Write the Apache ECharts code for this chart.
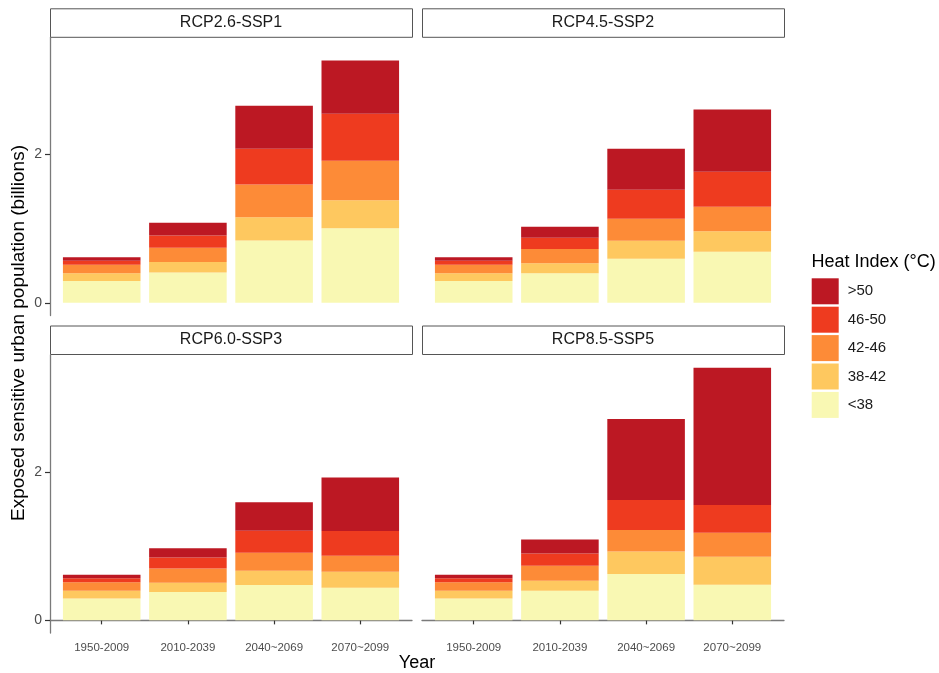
<!DOCTYPE html>
<html>
<head>
<meta charset="utf-8">
<script src="https://cdn.jsdelivr.net/npm/echarts@6/dist/echarts.min.js"></script>
<style>
  html, body { margin: 0; padding: 0; background: #fff; }
  #chart { width: 939px; height: 673px; }
</style>
</head>
<body>
<div id="chart"></div>
<script>
// categories
var periods = ['1950-2009', '2010-2039', '2040~2069', '2070~2099'];
var scenarios = ['RCP2.6-SSP1', 'RCP4.5-SSP2', 'RCP6.0-SSP3', 'RCP8.5-SSP5'];
var bins = ['<38', '38-42', '42-46', '46-50', '>50'];
var binColors = ['#F9F8B3', '#FEC85F', '#FD8B37', '#EE3B1F', '#BC1823'];

// exposed population (billions), one row per heat index bin, one column per period
var rcp26_ssp1 = [
    [0.296, 0.408, 0.839, 1.006],
    [0.104, 0.144, 0.315, 0.377],
    [0.112, 0.189, 0.439, 0.529],
    [0.054, 0.166, 0.481, 0.633],
    [0.048, 0.171, 0.579, 0.718]
];
var rcp45_ssp2 = [
    [0.296, 0.400, 0.593, 0.687],
    [0.104, 0.135, 0.242, 0.278],
    [0.112, 0.189, 0.296, 0.328],
    [0.054, 0.152, 0.391, 0.471],
    [0.048, 0.148, 0.552, 0.840]
];
var rcp60_ssp3 = [
    [0.296, 0.382, 0.476, 0.440],
    [0.104, 0.126, 0.193, 0.215],
    [0.112, 0.189, 0.242, 0.215],
    [0.054, 0.148, 0.296, 0.332],
    [0.048, 0.126, 0.382, 0.723]
];
var rcp85_ssp5 = [
    [0.296, 0.400, 0.624, 0.480],
    [0.104, 0.135, 0.305, 0.377],
    [0.112, 0.202, 0.287, 0.323],
    [0.054, 0.162, 0.404, 0.373],
    [0.048, 0.189, 1.091, 1.850]
];
var panelData = [rcp26_ssp1, rcp45_ssp2, rcp60_ssp3, rcp85_ssp5];

var yTicks = [0, 2];
var xTicks = [1, 2, 3, 4];
var font = 'Liberation Sans, Arial, sans-serif';

// panel boxes (ggplot facet layout); x range is 0.4..4.6 like ggplot's discrete expansion
var panels = [
    {left: 50, top: 37.5, stripTop: 8.3},
    {left: 422, top: 37.5, stripTop: 8.3},
    {left: 50, top: 355, stripTop: 325.5},
    {left: 422, top: 355, stripTop: 325.5}
];
var panelW = 362, panelH = 278;
var unit = panelW / 4.2;
var yMin = -0.17, yMax = 3.573;

var chart = echarts.init(document.getElementById('chart'));

var grid = [], xAxis = [], yAxis = [], series = [], graphic = [];

panels.forEach(function (p, i) {
    var bottomRow = i >= 2;
    var leftCol = i % 2 === 0;
    var frame = grid.length;

    // frame grid: carries the axis lines, ticks and labels
    grid.push({left: p.left, top: p.top, width: panelW, height: panelH});
    xAxis.push({
        type: 'value', gridIndex: frame, min: 0.4, max: 4.6,
        show: bottomRow,
        splitLine: {show: false},
        axisLine: {show: true, lineStyle: {color: '#7a7a7a', width: 1.3}},
        axisTick: {show: true, length: 4, customValues: xTicks, lineStyle: {color: '#333', width: 1.2}},
        axisLabel: {
            customValues: xTicks, color: '#4d4d4d', fontSize: 11.5, fontFamily: font, margin: 8.5,
            formatter: function (v) { return periods[Math.round(v) - 1]; }
        }
    });
    yAxis.push({
        type: 'value', gridIndex: frame, min: yMin, max: yMax,
        show: leftCol,
        splitLine: {show: false},
        axisLine: {show: true, lineStyle: {color: '#7a7a7a', width: 1.3}},
        axisTick: {show: true, length: 5, customValues: yTicks, lineStyle: {color: '#333', width: 1.2}},
        axisLabel: {customValues: yTicks, color: '#4d4d4d', fontSize: 14, fontFamily: font, margin: 8}
    });

    // bar grid: category bands of one unit each, inside the expanded frame
    var bars = grid.length;
    grid.push({left: p.left + unit * 0.1, top: p.top, width: unit * 4, height: panelH});
    xAxis.push({type: 'category', gridIndex: bars, data: periods, show: false});
    yAxis.push({type: 'value', gridIndex: bars, min: yMin, max: yMax, show: false});

    bins.forEach(function (b, k) {
        series.push({
            type: 'bar', name: b, xAxisIndex: bars, yAxisIndex: bars, stack: 'panel' + i,
            barWidth: unit * 0.9,
            itemStyle: {color: binColors[k]},
            data: panelData[i][k]
        });
    });

    // facet strip
    graphic.push({
        type: 'rect', left: p.left, top: p.stripTop,
        shape: {width: panelW, height: 28.5},
        style: {fill: '#fff', stroke: '#555', lineWidth: 1}
    });
    graphic.push({
        type: 'text',
        x: p.left + panelW / 2, y: p.stripTop + 14.5,
        style: {text: scenarios[i], fill: '#1a1a1a', font: '16px ' + font, align: 'center', verticalAlign: 'middle'}
    });
});

graphic.push({
    type: 'text', x: 19, y: 333, rotation: Math.PI / 2,
    style: {text: 'Exposed sensitive urban population (billions)', fill: '#000', font: '19px ' + font, align: 'center', verticalAlign: 'middle'}
});
graphic.push({
    type: 'text', x: 417, y: 663.5,
    style: {text: 'Year', fill: '#000', font: '18px ' + font, align: 'center', verticalAlign: 'middle'}
});
graphic.push({
    type: 'text', x: 811.5, y: 262,
    style: {text: 'Heat Index (°C)', fill: '#000', font: '18px ' + font, align: 'left', verticalAlign: 'middle'}
});

chart.setOption({
    animation: false,
    backgroundColor: '#fff',
    grid: grid,
    xAxis: xAxis,
    yAxis: yAxis,
    legend: {
        data: bins.slice().reverse(),
        orient: 'vertical', left: 811.7, top: 278.3, padding: 0,
        icon: 'rect', itemWidth: 27, itemHeight: 26, itemGap: 2.4,
        selectedMode: false,
        textStyle: {fontSize: 15, color: '#1a1a1a', fontFamily: font, padding: [0, 0, 0, 4]}
    },
    series: series,
    graphic: graphic
});
</script>
</body>
</html>
